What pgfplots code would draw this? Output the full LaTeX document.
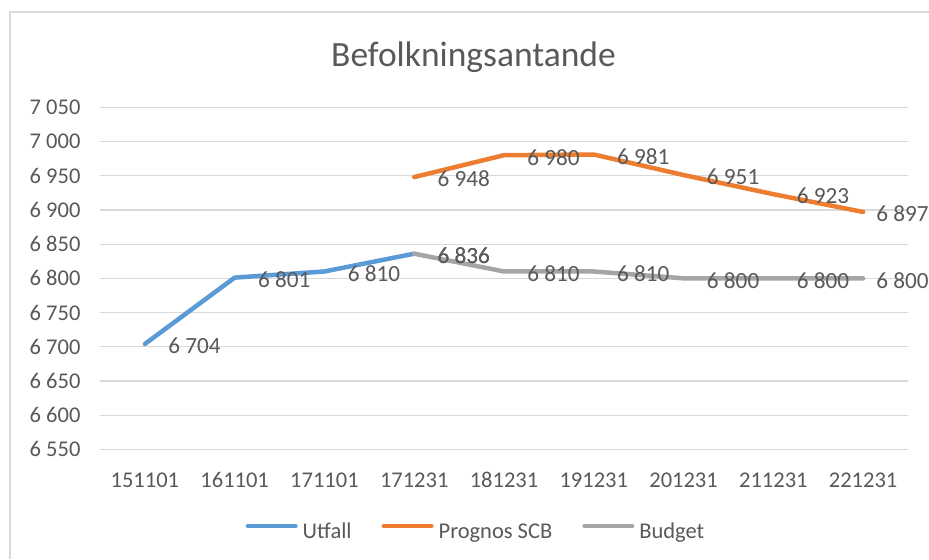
\documentclass[border=0pt]{standalone}
\usepackage{fontspec}
\setmainfont{Carlito}
\usepackage{pgfplots}
\pgfplotsset{compat=1.18}
\pgfkeys{/pgf/number format/.cd,1000 sep={\ },assume math mode=true}
\definecolor{txt}{HTML}{595959}
\definecolor{gridc}{HTML}{D9D9D9}
\definecolor{cUt}{HTML}{5B9BD5}
\definecolor{cPr}{HTML}{ED7D31}
\definecolor{cBu}{HTML}{A5A5A5}
\definecolor{bordc}{HTML}{D9D9D9}
\newcommand\lblfont{\fontsize{11.25pt}{13.5pt}\selectfont}
\newcommand\datfont{\fontsize{11.6pt}{13.5pt}\selectfont}
\begin{document}
\begin{tikzpicture}
\path[use as bounding box] (0,0) rectangle (464.5pt,279.5pt);
\fill[white] (0,0) rectangle (464.5pt,279.5pt);
\draw[bordc, line width=1pt] (5pt,0) -- (5pt,273.5pt) -- (464.5pt,273.5pt);
\node[anchor=base, text=txt, font=\fontsize{17.75pt}{21pt}\selectfont] at (236.75pt,246.15pt) {Befolkningsantande};
\begin{axis}[
  at={(50pt,54.85pt)}, anchor=south west,
  scale only axis, width=404pt, height=171pt,
  xmin=-0.5, xmax=8.5, ymin=6550, ymax=7050,
  xtick={0,...,8},
  xticklabels={151101,161101,171101,171231,181231,191231,201231,211231,221231},
  ytick={6550,6600,...,7050},
  ymajorgrids, grid style={gridc, line width=0.6pt},
  axis line style={draw=none}, major tick style={draw=none},
  tick label style={text=txt, font=\lblfont},
  xticklabel style={yshift=-8.1pt},
  yticklabel style={xshift=-6.25pt},
  clip=false,
  nodes near coords,
  visualization depends on={x \as \xv},
  nodes near coords style={anchor=west, xshift={(\xv>7.5 ? 2.2 : 7.25)*1pt}, yshift=-1.0pt, text=txt, font=\datfont},
  every axis plot/.append style={line width=2.25pt, line cap=round, line join=round, mark=none},
  legend columns=3,
  legend style={at={(axis description cs:0.4641,-0.243)}, anchor=center, draw=none, fill=none,
    font=\lblfont, text=txt, inner sep=0pt, nodes={inner sep=0pt},
    /tikz/every even column/.append style={column sep=15pt},
    /tikz/every odd column/.append style={column sep=2.5pt}},
  legend image code/.code={\draw[#1, line width=2pt, line cap=round] (1pt,3.2pt) -- (25pt,3.2pt);},
]
\addplot[cUt] coordinates {(0,6704)(1,6801)(2,6810)(3,6836)};
\addlegendentry{Utfall}
\addplot[cPr] coordinates {(3,6948)(4,6980)(5,6981)(6,6951)(7,6923)(8,6897)};
\addlegendentry{Prognos SCB}
\addplot[cBu] coordinates {(3,6836)(4,6810)(5,6810)(6,6800)(7,6800)(8,6800)};
\addlegendentry{Budget}
\end{axis}
\end{tikzpicture}
\end{document}
